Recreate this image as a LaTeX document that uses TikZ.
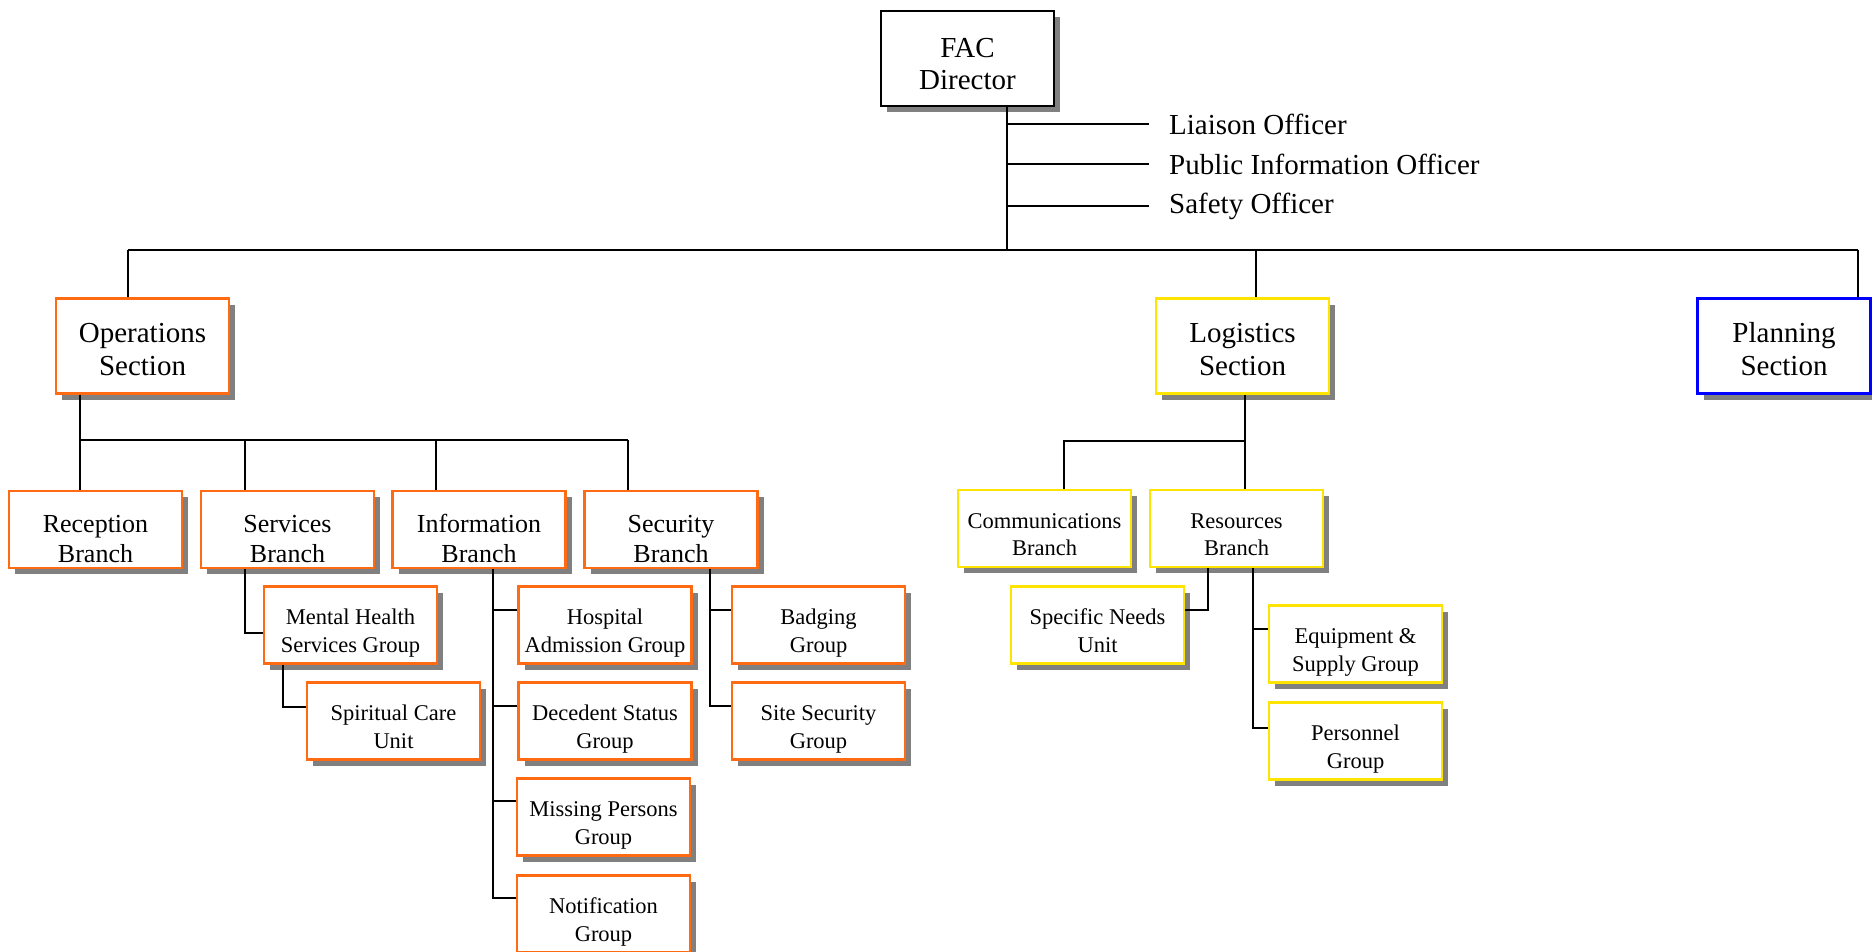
\documentclass[tikz,border=0pt]{standalone}
\usepackage{fontspec}
\setmainfont{Liberation Serif}
\usetikzlibrary{shadows}
\definecolor{orng}{RGB}{255,106,19}
\definecolor{yell}{RGB}{255,228,0}
\definecolor{blu}{RGB}{0,0,255}
\definecolor{shgray}{RGB}{128,128,128}
\newcommand{\tx}[2]{\raisebox{#1}[\height][\depth]{\begin{tabular}{@{}c@{}}#2\end{tabular}}}
\tikzset{
  basebox/.style={draw, fill=white, line width=2.4pt, minimum width=173pt, inner sep=0pt,
    drop shadow={shadow xshift=6pt, shadow yshift=-6pt, fill=shgray, opacity=1}},
  secbox/.style={basebox, minimum height=95pt, font=\fontsize{29}{32.5}\selectfont},
  brbox/.style={basebox, minimum height=77pt, font=\fontsize{26}{30}\selectfont},
  grpbox/.style={basebox, minimum height=77pt, font=\fontsize{22.5}{27.5}\selectfont},
  ops/.style={draw=orng},
  logi/.style={draw=yell},
  conn/.style={draw=black, line width=2pt},
  offtext/.style={anchor=west, inner sep=0pt, font=\fontsize{29}{33}\selectfont}
}
\begin{document}
\begin{tikzpicture}[x=1pt,y=-1pt]
\useasboundingbox (0,0) rectangle (1872,951);
% nodes
\node[secbox, draw=black, line width=2pt] (dir) at (967.5,58.5) {\tx{-8.5pt}{FAC\\Director}};
\node[offtext] (lo) at (1169,124) {Liaison Officer};
\node[offtext] (pio) at (1169,164) {Public Information Officer};
\node[offtext] (so) at (1169,206) {Safety Officer};

\node[secbox, ops] (opsec) at (142.5,346) {\tx{-6.5pt}{Operations\\Section}};
\node[secbox, logi] (logsec) at (1242.5,346) {\tx{-6.5pt}{Logistics\\Section}};
\node[secbox, draw=blu] (plan) at (1784,346) {\tx{-6.5pt}{Planning\\Section}};

\node[brbox, ops] (rec) at (95.5,529.5) {\tx{-11.5pt}{Reception\\Branch}};
\node[brbox, ops] (serv) at (287.5,529.5) {\tx{-11.5pt}{Services\\Branch}};
\node[brbox, ops] (info) at (479,529.5) {\tx{-11.5pt}{Information\\Branch}};
\node[brbox, ops] (sec) at (671,529.5) {\tx{-11.5pt}{Security\\Branch}};

\node[grpbox, ops] (mh) at (350.5,625) {\tx{-8pt}{Mental Health\\Services Group}};
\node[grpbox, ops] (sc) at (393.5,721) {\tx{-8pt}{Spiritual Care\\Unit}};
\node[grpbox, ops] (hosp) at (605,625) {\tx{-8pt}{Hospital\\Admission Group}};
\node[grpbox, ops] (dec) at (605,721) {\tx{-8pt}{Decedent Status\\Group}};
\node[grpbox, ops] (miss) at (603.5,817) {\tx{-8pt}{Missing Persons\\Group}};
\node[grpbox, ops] (noti) at (603.5,914) {\tx{-8pt}{Notification\\Group}};
\node[grpbox, ops] (badg) at (818.5,625) {\tx{-8pt}{Badging\\Group}};
\node[grpbox, ops] (site) at (818.5,721) {\tx{-8pt}{Site Security\\Group}};

\node[grpbox, logi] (comm) at (1044.5,528.5) {\tx{-8pt}{Communications\\Branch}};
\node[grpbox, logi] (res) at (1236.5,528.5) {\tx{-8pt}{Resources\\Branch}};
\node[grpbox, logi] (spec) at (1097.5,625) {\tx{-8pt}{Specific Needs\\Unit}};
\node[grpbox, logi] (equip) at (1355.5,644) {\tx{-8pt}{Equipment \&\\Supply Group}};
\node[grpbox, logi] (pers) at (1355.5,741) {\tx{-8pt}{Personnel\\Group}};

% connectors: director
\coordinate (dj) at (1007,250);
\draw[conn] (dir.south -| dj) -- (dj);
\draw[conn] (lo.west -| dj) -- ([xshift=-20pt]lo.west);
\draw[conn] (pio.west -| dj) -- ([xshift=-20pt]pio.west);
\draw[conn] (so.west -| dj) -- ([xshift=-20pt]so.west);
\coordinate (bl) at (128,250);
\coordinate (br) at (1858,250);
\coordinate (lj) at (1256,250);
\draw[conn] (bl) -- (br);
\draw[conn] (bl) -- (bl |- opsec.north);
\draw[conn] (lj) -- (lj |- logsec.north);
\draw[conn] (br) -- (br |- plan.north);

% operations
\coordinate (oj) at (80,440);
\coordinate (o2) at (245,440);
\coordinate (o3) at (436,440);
\coordinate (o4) at (628,440);
\draw[conn] (oj |- opsec.south) -- (oj |- rec.north);
\draw[conn] (oj) -- (o4);
\draw[conn] (o2) -- (o2 |- serv.north);
\draw[conn] (o3) -- (o3 |- info.north);
\draw[conn] (o4) -- (o4 |- sec.north);

% services
\coordinate (sv) at (245,633);
\draw[conn] (sv |- serv.south) -- (sv) -- (sv -| mh.west);
\coordinate (mv) at (283,707);
\draw[conn] (mv |- mh.south) -- (mv) -- (mv -| sc.west);

% information
\coordinate (iv) at (493,898);
\draw[conn] (iv |- info.south) -- (iv) -- (iv -| noti.west);
\draw[conn] (hosp.west |- 0,610) -- (iv |- 0,610);
\draw[conn] (dec.west |- 0,706) -- (iv |- 0,706);
\draw[conn] (miss.west |- 0,801) -- (iv |- 0,801);

% security
\coordinate (sy) at (710,706);
\draw[conn] (sy |- sec.south) -- (sy) -- (sy -| site.west);
\draw[conn] (badg.west |- 0,610) -- (sy |- 0,610);

% logistics
\coordinate (lv) at (1245,441);
\coordinate (lc) at (1064,441);
\draw[conn] (lv |- logsec.south) -- (lv |- res.north);
\draw[conn] (lv) -- (lc) -- (lc |- comm.north);

% resources
\coordinate (rs) at (1208,610);
\draw[conn] (rs |- res.south) -- (rs) -- (rs -| spec.east);
\coordinate (re) at (1253,728);
\draw[conn] (re |- res.south) -- (re) -- (re -| pers.west);
\draw[conn] (equip.west |- 0,629) -- (re |- 0,629);
\end{tikzpicture}
\end{document}
